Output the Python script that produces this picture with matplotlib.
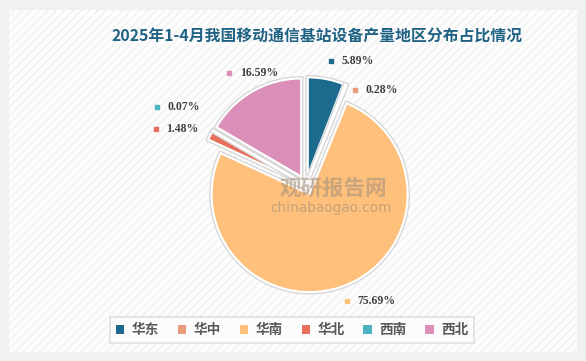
import numpy as np
import matplotlib
matplotlib.use('Agg')
from matplotlib import pyplot as plt
from matplotlib import patheffects as pe
from matplotlib.patches import Rectangle

regions = ['华东', '华中', '华南', '华北', '西南', '西北']
shares = [5.89, 0.28, 75.69, 1.48, 0.07, 16.59]
colors = ['#1c6b8e', '#e89c7c', '#fec07a', '#e86f5b', '#4ab5c1', '#da8eb8']

# label placement (radial distance, angle nudge in degrees, ccw)
label_dist = [1.29, 1.09, 1.255, 1.634, 1.716, 1.387]
label_nudge = [-0.8, -5.6, -2.0, 6.9, 2.6, 4.5]

plt.rcParams['font.family'] = ['Noto Sans CJK SC', 'DejaVu Sans']

W, H = 586, 361
fig = plt.figure(figsize=(W / 100, H / 100), dpi=100, facecolor='#f1f1f1')
fig.patches.append(Rectangle((9 / W, 9 / H), 568 / W, 342 / H, transform=fig.transFigure,
                             facecolor='#fdfdfd', edgecolor='#f1f1f1', hatch='////',
                             lw=0, zorder=-5))

# pie centre at pixel (306, 185), radius 98 px
R, cx, cy = 98, 306, 185
ax = fig.add_axes([0, 0, 1, 1])
ax.set_facecolor('none')
ax.set_zorder(1)

wedges, _ = ax.pie(shares, colors=colors, startangle=90, counterclock=False,
                   explode=[0.1] * len(shares), radius=1,
                   wedgeprops=dict(edgecolor='white', linewidth=1.5))
for w in wedges:
    w.set_path_effects([pe.Stroke(linewidth=3.5, foreground='#d8d8d8'), pe.Normal()])

ax.set_xlim(-cx / R, (W - cx) / R)
ax.set_ylim(-(H - cy) / R, cy / R)
ax.set_aspect('auto')
ax.axis('off')

for w, v, c, d, n in zip(wedges, shares, colors, label_dist, label_nudge):
    ang = np.deg2rad((w.theta1 + w.theta2) / 2 + n)
    x, y = d * np.cos(ang), d * np.sin(ang)
    ax.plot(x, y, 's', ms=2.8, color=c)
    ax.annotate(f'{v:.2f}%', xy=(x, y), xytext=(7.5, 0), textcoords='offset points',
                ha='left', va='center', fontsize=8.5, fontweight='bold',
                color='#404040', family=['Liberation Serif'])

# watermark
ax.text((333 - cx) / R, (cy - 188) / R, '观研报告网', ha='center', va='center', fontsize=15.5,
        fontweight='bold', color='#a8927c', alpha=0.6, zorder=5)
ax.text((331 - cx) / R, (cy - 208) / R, 'chinabaogao.com', ha='center', va='center',
        fontsize=9.8, color='#a8927c', alpha=0.65, family=['DejaVu Sans'], zorder=5)

fig.text(317 / W, 1 - 37 / H, '2025年1-4月我国移动通信基站设备产量地区分布占比情况',
         ha='center', va='center', fontsize=11.4, fontweight='bold', color='#1f6283')

leg = fig.legend(wedges, regions, loc='center', bbox_to_anchor=(292 / W, 1 - 330 / H),
                 ncol=6, frameon=True, fancybox=False, handlelength=0.6, handleheight=0.6,
                 handletextpad=0.55, columnspacing=1.4, borderpad=0.45, borderaxespad=0,
                 prop=dict(size=9.8, weight='bold'))
leg.get_frame().set_edgecolor('#d9d9d9')
leg.get_frame().set_facecolor('#fdfdfd')
leg.get_frame().set_linewidth(1.2)
for t in leg.get_texts():
    t.set_color('#595959')
for h in leg.legend_handles:
    h.set_edgecolor('none')
    h.set_path_effects([])

fig.savefig('out.png', dpi=100, facecolor=fig.get_facecolor())
